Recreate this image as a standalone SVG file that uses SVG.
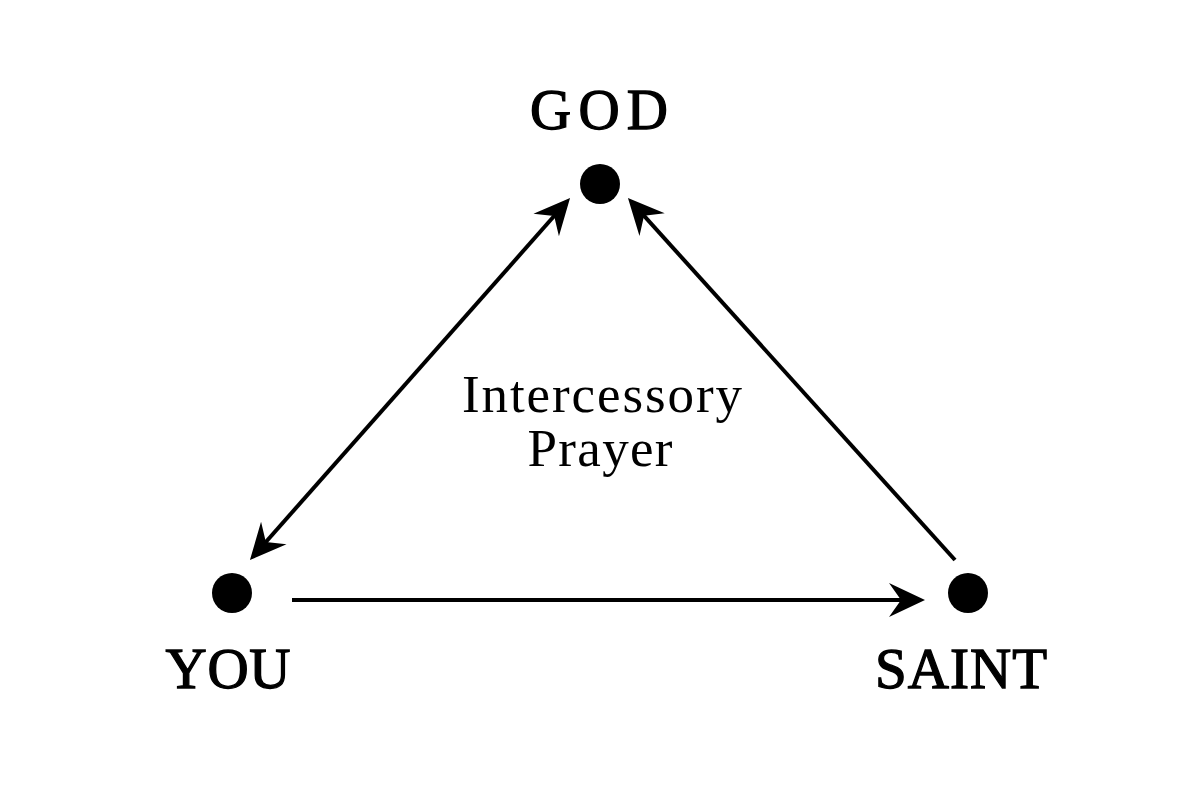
<svg xmlns="http://www.w3.org/2000/svg" width="1200" height="800" viewBox="0 0 1200 800">
<style>
.lbl{font-family:"Liberation Serif","Times New Roman",serif;fill:#000;}
.cap{font-size:57px;stroke:#000;stroke-width:1.3;}
.mid{font-size:53px;}
.edge{stroke:#000;stroke-width:4;fill:none;}
</style>
<defs>
<marker id="ah" viewBox="-38 -19 40 38" refX="-12" refY="0" markerWidth="40" markerHeight="38" markerUnits="userSpaceOnUse" orient="auto-start-reverse">
<path d="M0,0 L-36,-17 L-24,0 L-36,17 Z" fill="#000"/>
</marker>
</defs>
<rect width="1200" height="800" fill="#fff"/>
<g id="connectors">
<line class="edge" x1="257.9" y1="551" x2="562.1" y2="207" marker-start="url(#ah)" marker-end="url(#ah)"/>
<line class="edge" x1="955" y1="560" x2="636" y2="206.9" marker-end="url(#ah)"/>
<line class="edge" x1="292" y1="600" x2="913" y2="600" marker-end="url(#ah)"/>
</g>
<g id="god">
<circle cx="600" cy="184" r="20" fill="#000"/>
<text class="lbl cap" x="599" y="129" text-anchor="middle" textLength="138" lengthAdjust="spacing">GOD</text>
</g>
<g id="you">
<circle cx="232" cy="593" r="20" fill="#000"/>
<text class="lbl cap" x="228" y="688" text-anchor="middle" textLength="125" lengthAdjust="spacing">YOU</text>
</g>
<g id="saint">
<circle cx="968" cy="593" r="20" fill="#000"/>
<text class="lbl cap" x="961" y="688" text-anchor="middle" textLength="172" lengthAdjust="spacing">SAINT</text>
</g>
<g id="label">
<text class="lbl mid" x="602" y="412" text-anchor="middle" textLength="280" lengthAdjust="spacing">Intercessory</text>
<text class="lbl mid" x="600" y="466" text-anchor="middle" textLength="145" lengthAdjust="spacing">Prayer</text>
</g>
</svg>
